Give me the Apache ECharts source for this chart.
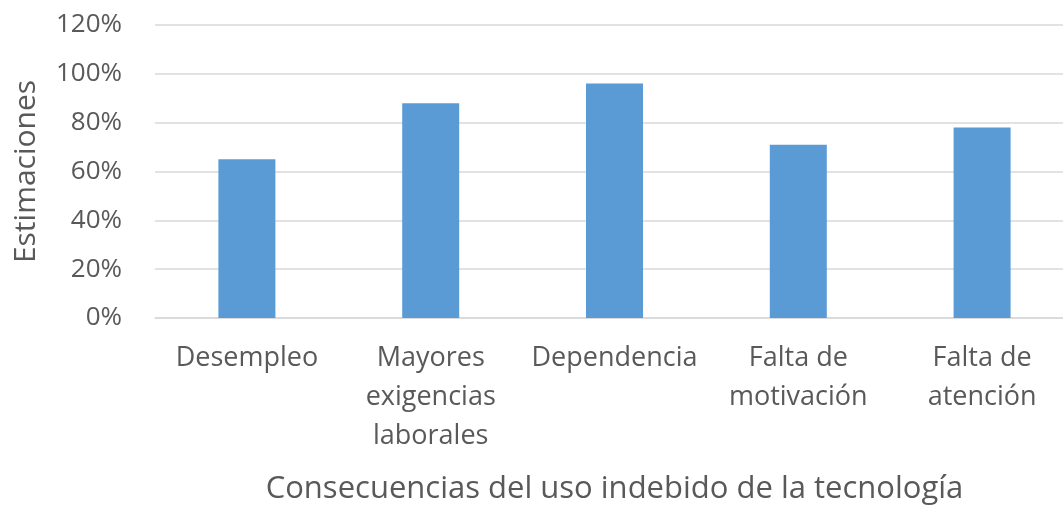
<!DOCTYPE html>
<html><head><meta charset="utf-8">
<script src="https://cdn.jsdelivr.net/npm/echarts@6/dist/echarts.min.js"></script>
<style>html,body{margin:0;padding:0;background:#fff;overflow:hidden}#c{width:1063px;height:506px}</style>
</head><body><div id="c"></div>
<script>
const categories = ["Desempleo", "Mayores\nexigencias\nlaborales", "Dependencia", "Falta de\nmotivación", "Falta de\natención"];
const values = [0.65, 0.88, 0.96, 0.71, 0.78];
const yTicks = [0, 0.2, 0.4, 0.6, 0.8, 1.0, 1.2];
const xTitle = "Consecuencias del uso indebido de la tecnología";
const yTitle = "Estimaciones";

const FONT = "'Open Sans', sans-serif";
const chart = echarts.init(document.getElementById('c'), null, {renderer: 'canvas'});
chart.setOption({
  animation: false,
  grid: {left: 155, right: -11, top: 25, bottom: 188, containLabel: false, outerBoundsMode: 'none'},
  xAxis: {
    type: 'category', data: categories,
    axisLine: {show: true, lineStyle: {color: '#d9d9d9', width: 1.5}},
    axisTick: {show: false},
    axisLabel: {color: '#595959', fontFamily: FONT, fontSize: 27, lineHeight: 39, margin: 21, interval: 0},
    name: xTitle, nameLocation: 'middle', nameGap: 156,
    nameTextStyle: {color: '#595959', fontFamily: FONT, fontSize: 31}
  },
  yAxis: {
    type: 'value', min: 0, max: yTicks[yTicks.length - 1], interval: yTicks[1] - yTicks[0],
    axisLine: {show: false}, axisTick: {show: false},
    splitLine: {lineStyle: {color: '#d9d9d9', width: 1.5}},
    axisLabel: {color: '#595959', fontFamily: FONT, fontSize: 26, margin: 33,
      formatter: v => Math.round(v * 100) + '%'},
    name: yTitle, nameLocation: 'middle', nameGap: 114, nameRotate: 90,
    nameTextStyle: {color: '#595959', fontFamily: FONT, fontSize: 30}
  },
  series: [{
    type: 'bar', data: values, barWidth: 57,
    itemStyle: {color: '#5b9bd5'}
  }]
});
</script></body></html>
